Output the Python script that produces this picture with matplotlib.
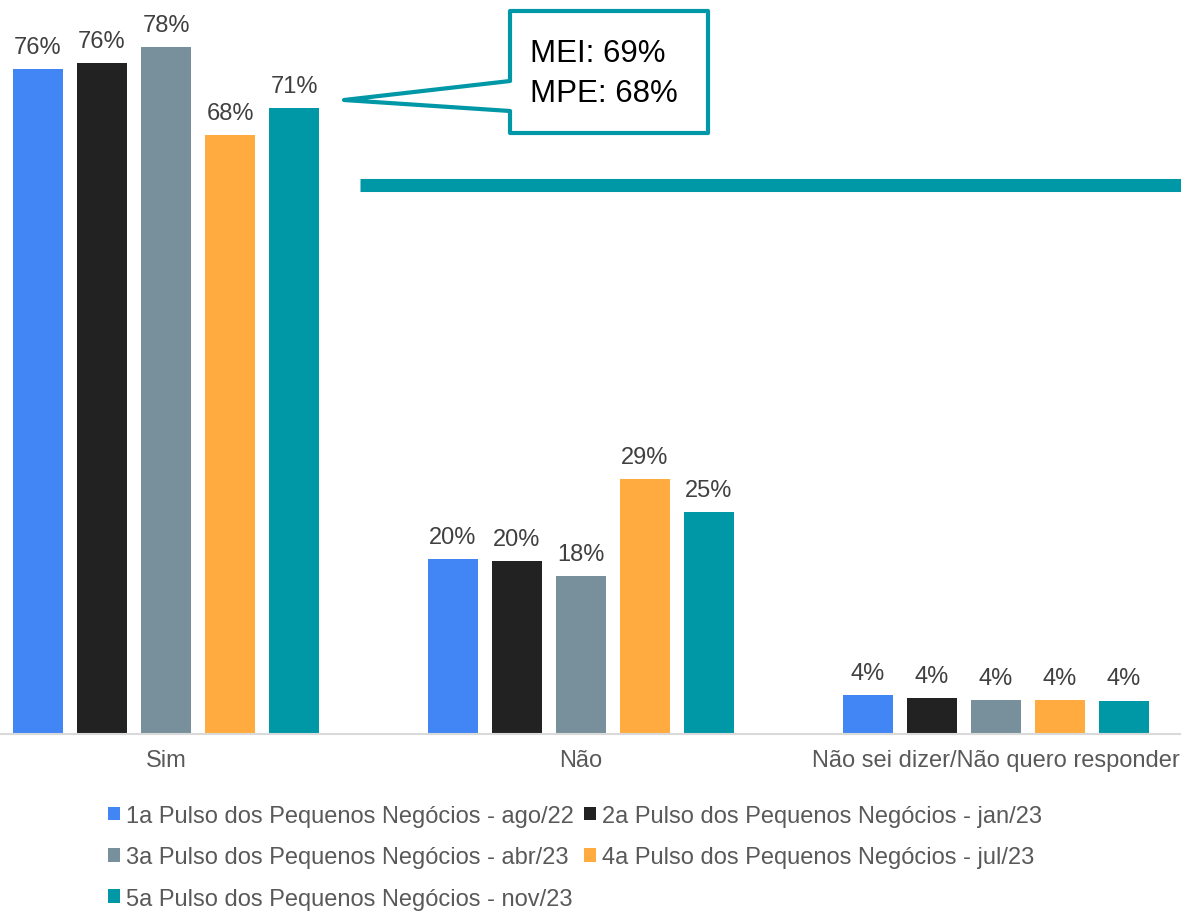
import numpy as np
import matplotlib
matplotlib.use("Agg")
import matplotlib.pyplot as plt
from matplotlib.patches import Polygon, Patch
from matplotlib.lines import Line2D

plt.rcParams['font.family'] = ['Liberation Sans', 'DejaVu Sans']

# dados
categorias = ["Sim", "Não", "Não sei dizer/Não quero responder"]
series = [
    "1a Pulso dos Pequenos Negócios - ago/22",
    "2a Pulso dos Pequenos Negócios - jan/23",
    "3a Pulso dos Pequenos Negócios - abr/23",
    "4a Pulso dos Pequenos Negócios - jul/23",
    "5a Pulso dos Pequenos Negócios - nov/23",
]
valores = [
    [75.5, 19.9, 4.4],
    [76.2, 19.6, 4.1],
    [78.0, 17.9, 3.9],
    [68.0, 28.9, 3.9],
    [71.0, 25.2, 3.8],
]
rotulos = [
    ["76%", "20%", "4%"],
    ["76%", "20%", "4%"],
    ["78%", "18%", "4%"],
    ["68%", "29%", "4%"],
    ["71%", "25%", "4%"],
]
cores = ["#4285F4", "#222222", "#78909C", "#FFAB40", "#0097A7"]
callout = "MEI: 69%\nMPE: 68%"

W, H = 1181, 912
fig = plt.figure(figsize=(W / 100, H / 100), dpi=100)
ax = fig.add_axes([0, (H - 735) / H, 1, 735 / H])

x = np.arange(len(categorias))
passo = 64 / 415
largura = 50 / 415
for i, (vals, labs, cor) in enumerate(zip(valores, rotulos, cores)):
    pos = x + (i - 2) * passo
    barras = ax.bar(pos, vals, width=largura, color=cor, label=series[i])
    for b, lab in zip(barras, labs):
        ax.annotate(lab, (b.get_x() + b.get_width() / 2, b.get_height()),
                    xytext=(0, 8), textcoords="offset points",
                    ha="center", va="bottom", fontsize=17, color="#404040")

ax.set_xlim(-166 / 415, (W - 166) / 415)
ax.set_ylim(0, 735 / 8.81)
ax.set_xticks(x)
ax.set_xticklabels(categorias, fontsize=17, color="#595959")
ax.tick_params(axis="x", length=0, pad=11)
ax.set_yticks([])
for s in ["top", "right", "left"]:
    ax.spines[s].set_visible(False)
ax.spines["bottom"].set_color("#D9D9D9")
ax.spines["bottom"].set_linewidth(1.5)

# balão
pts = [(510, 12), (708, 12), (708, 134), (510, 134), (510, 112), (344, 101), (510, 82)]
poly = Polygon([(px / W, 1 - py / H) for px, py in pts], closed=True,
               transform=fig.transFigure, facecolor="white", edgecolor="#0097A7",
               linewidth=3, joinstyle="round")
fig.add_artist(poly)
fig.text(530 / W, 1 - 74 / H, callout, fontsize=22.5, color="black",
         ha="left", va="center", linespacing=1.4)

# linha horizontal
fig.add_artist(Line2D([360 / W, 1], [1 - 186 / H, 1 - 186 / H], transform=fig.transFigure,
                      color="#0097A7", linewidth=9.4, solid_capstyle="butt"))

# legenda (ordem por linhas)
handles = [Patch(facecolor=c) for c in cores]
ordem = [0, 2, 4, 1, 3]
leg = fig.legend([handles[i] for i in ordem], [series[i] for i in ordem],
                 loc="upper center", bbox_to_anchor=(575 / W, 1 - 794 / H), ncol=2,
                 frameon=False, fontsize=17, handlelength=0.5, handleheight=0.5,
                 handletextpad=0.25, columnspacing=0.45, labelspacing=0.82,
                 borderpad=0)
for t in leg.get_texts():
    t.set_color("#595959")

fig.savefig("out.png", dpi=100)
